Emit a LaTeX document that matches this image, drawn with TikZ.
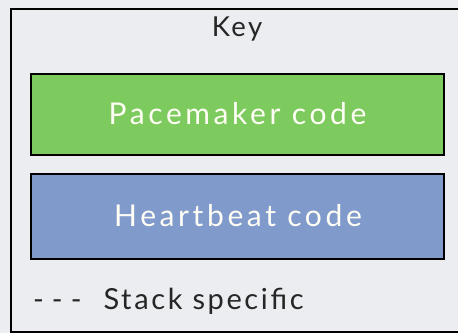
\documentclass[tikz,border=0pt]{standalone}
\usepackage{fontspec}
\setmainfont{Lato}
\newfontfamily\boxfont[LetterSpace=12]{Lato}
\newfontfamily\keyfont[LetterSpace=9]{Lato}
\definecolor{bg}{HTML}{ECEDF0}
\definecolor{pgreen}{HTML}{7DCB5E}
\definecolor{hblue}{HTML}{7F9ACB}
\tikzset{
  codebox/.style={draw=black, line width=1.8pt, minimum width=413pt, inner sep=0pt},
  boxtext/.style={text=white!96!yellow, font=\boxfont\fontsize{30}{30}\selectfont, inner sep=0pt, anchor=base},
  keytext/.style={text=black!85, font=\keyfont\fontsize{27.5}{27.5}\selectfont, inner sep=0pt, anchor=base}
}
\begin{document}
\begin{tikzpicture}[x=1pt,y=1pt]
\useasboundingbox (0,0) rectangle (458,333);
\fill[bg] (0,0) rectangle (458,333);
\begin{scope}
\clip (0,0) rectangle (458,333);
\draw[black, line width=1.8pt] (11,324) rectangle (470,1);
\end{scope}
\node[keytext] (key) at (237,297) {Key};
\node[codebox, fill=pgreen, minimum height=81pt] (pace) at (237.8,218.5) {};
\node[codebox, fill=hblue, minimum height=85pt] (heart) at (237.8,116.5) {};
\node[boxtext] (pacet) at (237.5,208.7) {Pacemaker code};
\node[boxtext] (heartt) at (238,106.3) {Heartbeat code};
\node[keytext, anchor=base west, font=\keyfont\fontsize{29}{29}\selectfont] (stack) at (33,24) {-\hspace{8pt}-\hspace{8pt}-\hspace{22pt}Stack specific};
\end{tikzpicture}
\end{document}
